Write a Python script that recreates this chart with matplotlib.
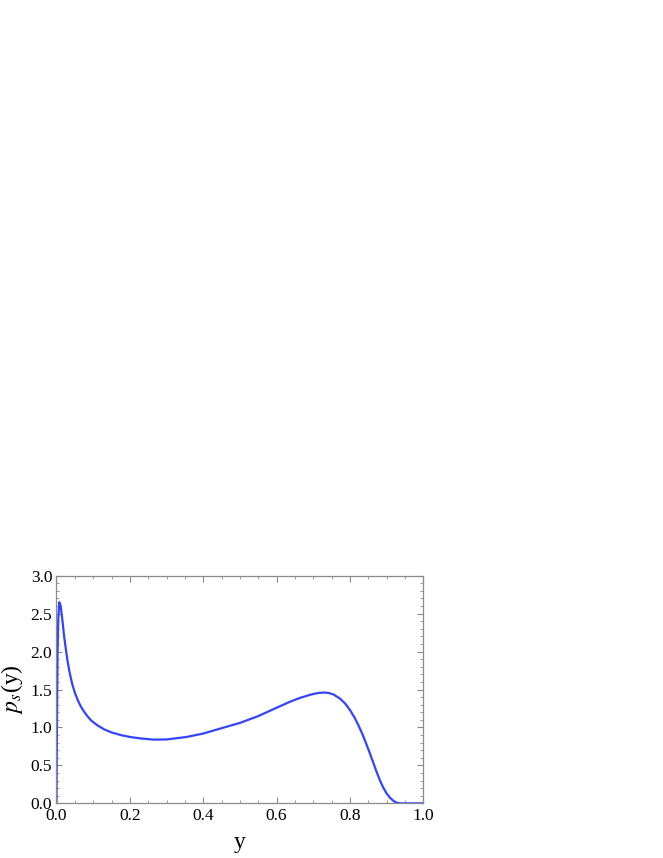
import matplotlib
matplotlib.use("Agg")
import matplotlib.pyplot as plt
from matplotlib.ticker import MultipleLocator

# values
y_grid = [0, 0.0015, 0.003, 0.005, 0.0077, 0.0114, 0.016, 0.0204, 0.025, 0.030,
          0.036, 0.043, 0.050, 0.058, 0.066, 0.075, 0.084, 0.095, 0.111, 0.13,
          0.15, 0.175, 0.20, 0.23, 0.264, 0.30, 0.355, 0.40, 0.446, 0.50,
          0.55, 0.591, 0.637, 0.664, 0.691, 0.705, 0.718, 0.73, 0.742, 0.755,
          0.773, 0.787, 0.80, 0.812, 0.823, 0.835, 0.846, 0.855, 0.864, 0.873,
          0.882, 0.891, 0.900, 0.909, 0.918, 0.925, 0.932, 0.94, 1.0]
p_s = [0, 1.2, 2.0, 2.45, 2.65, 2.60, 2.42, 2.22, 2.05, 1.88,
       1.72, 1.57, 1.46, 1.36, 1.28, 1.21, 1.15, 1.09, 1.03, 0.975,
       0.935, 0.90, 0.875, 0.855, 0.84, 0.842, 0.875, 0.92, 0.985, 1.06,
       1.15, 1.24, 1.34, 1.39, 1.43, 1.447, 1.457, 1.46, 1.455, 1.435,
       1.38, 1.315, 1.23, 1.135, 1.03, 0.90, 0.765, 0.65, 0.53, 0.41,
       0.30, 0.205, 0.13, 0.075, 0.035, 0.013, 0.003, 0, 0]

plt.rcParams["font.family"] = ["Liberation Serif", "DejaVu Serif"]
plt.rcParams["mathtext.fontset"] = "stix"

fig = plt.figure(figsize=(6.63, 8.58), dpi=100)
ax = fig.add_axes([0.0852, 0.0637, 0.5533, 0.2653])

ax.plot(y_grid, p_s, color="#3344ff", lw=1.6, solid_joinstyle="round")

ax.set_xlim(0, 1)
ax.set_ylim(0, 3)
ax.xaxis.set_major_locator(MultipleLocator(0.2))
ax.xaxis.set_minor_locator(MultipleLocator(0.05))
ax.yaxis.set_major_locator(MultipleLocator(0.5))
ax.yaxis.set_minor_locator(MultipleLocator(0.1))
ax.xaxis.set_major_formatter(plt.FormatStrFormatter("%.1f"))
ax.yaxis.set_major_formatter(plt.FormatStrFormatter("%.1f"))

gray = "#8a8a8a"
for s in ax.spines.values():
    s.set_color(gray)
    s.set_linewidth(0.9)
ax.tick_params(which="both", direction="in", top=True, right=True,
               color=gray, labelsize=12.5, labelcolor="black")
ax.tick_params(which="major", length=4.5, width=0.8, pad=3)
ax.tick_params(which="minor", length=2.5, width=0.6)

ax.set_xlabel("y", fontsize=17, labelpad=6)
ax.set_ylabel(r"$p_s$(y)", fontsize=17, labelpad=4)

fig.savefig("out.png", dpi=100)
